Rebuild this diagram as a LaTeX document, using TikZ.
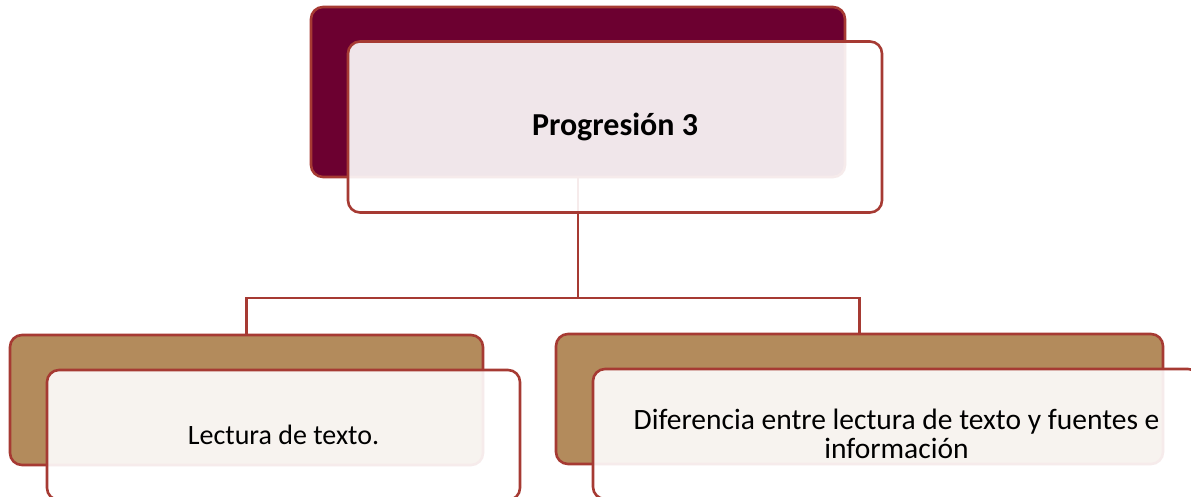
\documentclass[tikz,border=0pt]{standalone}
\usepackage{fontspec}
\setmainfont{Carlito}
\definecolor{maroon}{HTML}{6C0030}
\definecolor{tan}{HTML}{B38B5C}
\definecolor{edge}{HTML}{A63A33}
\begin{document}
\begin{tikzpicture}[x=1pt,y=-1pt,
  box/.style={draw=edge, line width=2.6pt, rounded corners=12pt, inner sep=0pt, outer sep=0pt},
  backbox/.style={box},
  frontbox/.style={box, fill=white, fill opacity=0.9, text opacity=1, align=center},
  link/.style={draw=edge, line width=2.6pt}]
\useasboundingbox (0,0) rectangle (1191,496);
\clip (0,0) rectangle (1191,496);
% back boxes
\node[backbox, fill=maroon, minimum width=534pt, minimum height=170pt] (topback) at (578,92) {};
\node[backbox, fill=tan, minimum width=473pt, minimum height=130pt] (lback) at (246.5,400) {};
\node[backbox, fill=tan, minimum width=607pt, minimum height=130pt] (rback) at (859.5,399) {};
% connectors
\coordinate (bar) at (578,298);
\draw[link] (topback.south) -- (bar) -| (lback.north);
\draw[link] (bar) -| (rback.north);
% front boxes
\node[frontbox, minimum width=534pt, minimum height=171pt, font=\fontsize{32}{38}\selectfont\bfseries] (topfront) at (615,127) {Progresión 3};
\node[frontbox, minimum width=473pt, minimum height=130pt, font=\fontsize{28}{32}\selectfont] (lfront) at (283.5,435) {Lectura de texto.};
\node[frontbox, minimum width=607pt, minimum height=130pt, font=\fontsize{29.5}{29}\selectfont] (rfront) at (896.5,434) {Diferencia entre lectura de texto y fuentes e\\información};
\end{tikzpicture}
\end{document}
